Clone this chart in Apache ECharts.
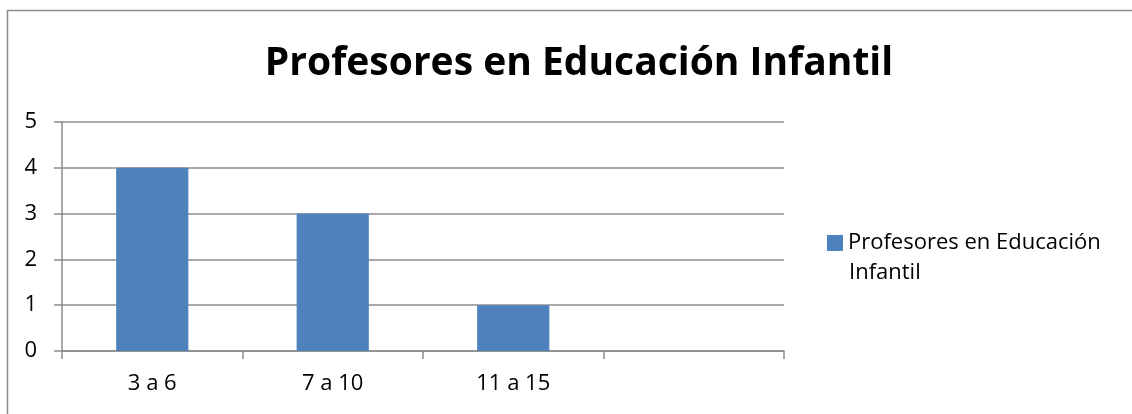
<!DOCTYPE html>
<html>
<head>
<meta charset="utf-8">
<script src="https://cdn.jsdelivr.net/npm/echarts@6/dist/echarts.min.js"></script>
<style>
  html, body { margin: 0; padding: 0; background: #fff; }
  #chart { width: 1132px; height: 414px; }
</style>
</head>
<body>
<div id="chart"></div>
<script>
// datos del grafico
var titulo = 'Profesores en Educación Infantil';
var categorias = ['3 a 6', '7 a 10', '11 a 15', ''];
var valores = [4, 3, 1, null];
var serieNombre = 'Profesores en Educación Infantil';
var leyendaLineas = ['Profesores en Educación', 'Infantil'];

var chart = echarts.init(document.getElementById('chart'));
var gris = '#8c8c8c';
var fuente = '"Open Sans", sans-serif';

var option = {
  animation: false,
  backgroundColor: '#fff',
  title: {
    text: titulo,
    left: 574,
    textAlign: 'center',
    top: 39,
    textStyle: { fontFamily: fuente, fontWeight: 'bold', fontSize: 39, color: '#000' }
  },
  graphic: [{
    type: 'rect',
    shape: { x: 7.5, y: 10.5, width: 1200, height: 500 },
    style: { fill: 'none', stroke: gris, lineWidth: 1.5 },
    silent: true
  }, {
    // segunda linea de la leyenda
    type: 'text',
    left: 849,
    top: 262,
    style: { text: leyendaLineas[1], fontFamily: fuente, fontSize: 22, fill: '#000' },
    silent: true
  }],
  legend: {
    left: 827,
    top: 232,
    padding: 0,
    orient: 'vertical',
    itemWidth: 16,
    itemHeight: 16,
    icon: 'rect',
    formatter: function () { return leyendaLineas[0]; },
    textStyle: { fontFamily: fuente, fontSize: 22, color: '#000', lineHeight: 16 }
  },
  grid: { left: 62, right: 348, top: 122, bottom: 63 },
  xAxis: {
    type: 'category',
    data: categorias,
    axisLine: { lineStyle: { color: gris, width: 1.5 } },
    axisTick: { show: true, length: 8, lineStyle: { color: gris, width: 1.5 } },
    axisLabel: { fontFamily: fuente, fontSize: 22, color: '#000', margin: 22 }
  },
  yAxis: {
    type: 'value',
    min: 0,
    max: 5,
    interval: 1,
    axisLine: { show: true, lineStyle: { color: gris, width: 1.5 } },
    axisTick: { show: true, length: 8, lineStyle: { color: gris, width: 1.5 } },
    axisLabel: { fontFamily: fuente, fontSize: 22, color: '#000', margin: 25 },
    splitLine: { lineStyle: { color: gris, width: 1.5 } }
  },
  series: [{
    name: serieNombre,
    type: 'bar',
    data: valores,
    barWidth: '40%',
    itemStyle: { color: '#4f81bd' }
  }]
};

chart.setOption(option);
</script>
</body>
</html>
